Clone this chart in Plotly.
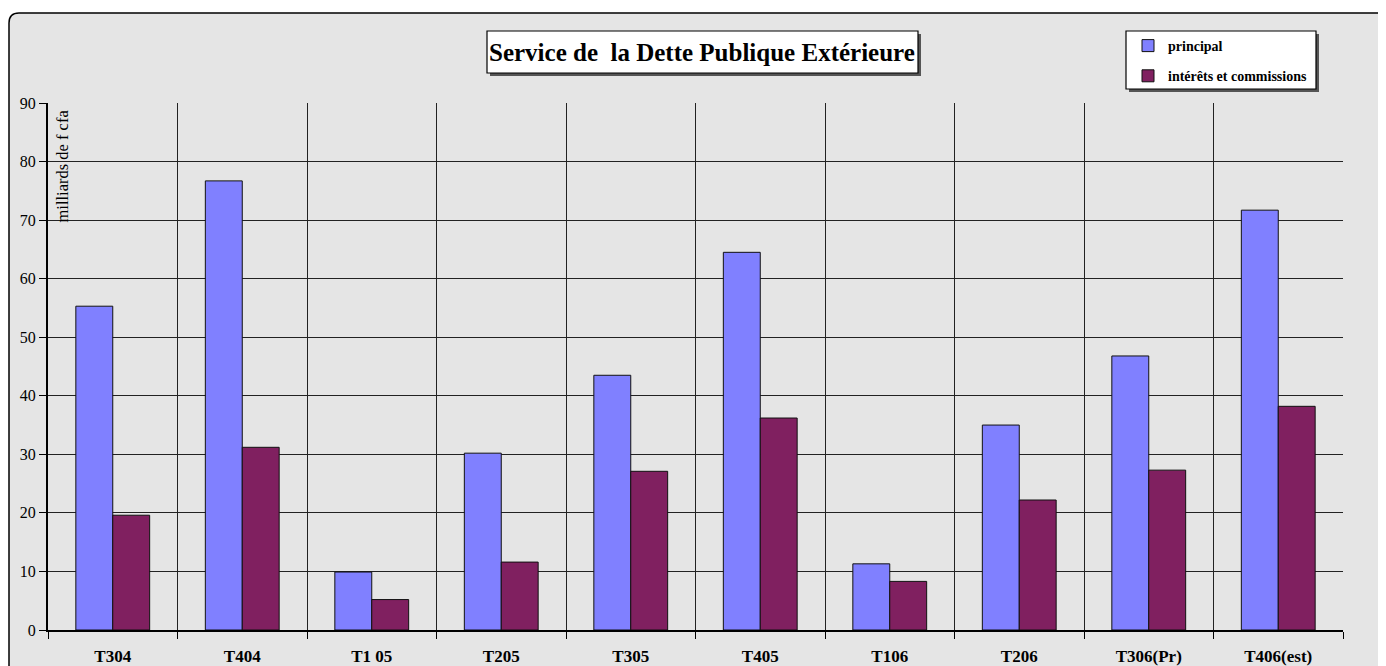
import plotly.graph_objects as go

categories = ["T304", "T404", "T1 05", "T205", "T305", "T405", "T106", "T206", "T306(Pr)", "T406(est)"]
principal = [55.3, 76.7, 9.9, 30.2, 43.5, 64.5, 11.3, 35.0, 46.8, 71.7]
interets = [19.6, 31.2, 5.2, 11.6, 27.1, 36.2, 8.3, 22.2, 27.3, 38.2]
series_names = ["principal", "intérêts et commissions"]
y_ticks = [0, 10, 20, 30, 40, 50, 60, 70, 80, 90]

OFF = 8  # page body margin
W, H = 1386 - OFF, 666 - OFF
L, R, T, B = 48, 1343, 103, 630  # plot area in page pixels
pw, ph = R - L, B - T

def px(x):
    return (x - L) / pw

def py(y):
    return (B - y) / ph

SERIF = "Liberation Serif, Times New Roman, serif"

fig = go.Figure()
fig.add_trace(go.Bar(x=categories, y=principal, name=series_names[0], legendgroup="a",
                     marker=dict(color="#8080FF", line=dict(color="#111111", width=1))))
fig.add_trace(go.Bar(x=categories, y=interets, name=series_names[1], legendgroup="b",
                     marker=dict(color="#802060", line=dict(color="#111111", width=1))))

shapes = []
x0, y0, x1, y1 = px(9), py(13), px(1400), py(680)
rx, ry = 10 / pw, 10 / ph
path = (f"M{x0},{y1} L{x0},{y0 - ry} Q{x0},{y0} {x0 + rx},{y0} "
        f"L{x1},{y0} L{x1},{y1} Z")
shapes.append(dict(type="path", path=path, xref="paper", yref="paper",
                   fillcolor="#e5e5e5", line=dict(color="#000000", width=1.5), layer="below"))
shapes.append(dict(type="rect", xref="paper", yref="paper", x0=px(490), x1=px(921), y0=py(76), y1=py(34),
                   fillcolor="#555555", line=dict(width=0), layer="below"))
shapes.append(dict(type="rect", xref="paper", yref="paper", x0=px(487), x1=px(918), y0=py(73), y1=py(31),
                   fillcolor="#ffffff", line=dict(color="#000000", width=1.2), layer="below"))
shapes.append(dict(type="rect", xref="paper", yref="paper", x0=px(1129), x1=px(1319), y0=py(92), y1=py(34),
                   fillcolor="#555555", line=dict(width=0), layer="below"))
shapes.append(dict(type="rect", xref="paper", yref="paper", x0=px(1126), x1=px(1316), y0=py(89), y1=py(31),
                   fillcolor="#ffffff", line=dict(color="#000000", width=1.2), layer="below"))

annotations = [
    dict(text="Service de \u00a0la Dette Publique Extérieure", xref="paper", yref="paper",
         x=px(702.5), y=py(52), xanchor="center", yanchor="middle", showarrow=False,
         font=dict(family=SERIF, size=25, color="#000000", weight="bold")),
    dict(text="milliards de f cfa", xref="paper", yref="paper", x=px(62), y=py(108),
         xanchor="center", yanchor="top", textangle=-90, showarrow=False,
         font=dict(family=SERIF, size=16.5, color="#000000")),
]

fig.update_layout(
    width=W, height=H,
    margin=dict(l=L - OFF, r=W - (R - OFF), t=T - OFF, b=H - (B - OFF), autoexpand=False),
    paper_bgcolor="#ffffff", plot_bgcolor="#ffffff",
    barmode="group", bargap=0.43, bargroupgap=0,
    shapes=shapes, annotations=annotations,
    showlegend=True,
    legend=dict(x=px(1128), y=py(30), xanchor="left", yanchor="top",
                bgcolor="rgba(0,0,0,0)", borderwidth=0, tracegroupgap=9,
                font=dict(family=SERIF, size=14, color="#000000", weight="bold"),
                itemwidth=30),
    xaxis=dict(type="category", tickson="boundaries", showgrid=True, gridcolor="#222222", gridwidth=1,
               ticks="outside", ticklen=7, tickcolor="#000000", showline=True, linecolor="#000000", linewidth=2,
               tickfont=dict(family=SERIF, size=17, color="#000000", weight="bold"), ticklabelstandoff=10,
               range=[-0.5, 9.5], automargin=False),
    yaxis=dict(range=[0, 90], tickvals=y_ticks, showgrid=True, gridcolor="#222222", gridwidth=1,
               ticks="outside", ticklen=7, tickcolor="#000000", showline=True, linecolor="#000000", linewidth=2,
               tickfont=dict(family=SERIF, size=16, color="#000000"), zeroline=False, automargin=False),
)

fig.write_html("out.html")
